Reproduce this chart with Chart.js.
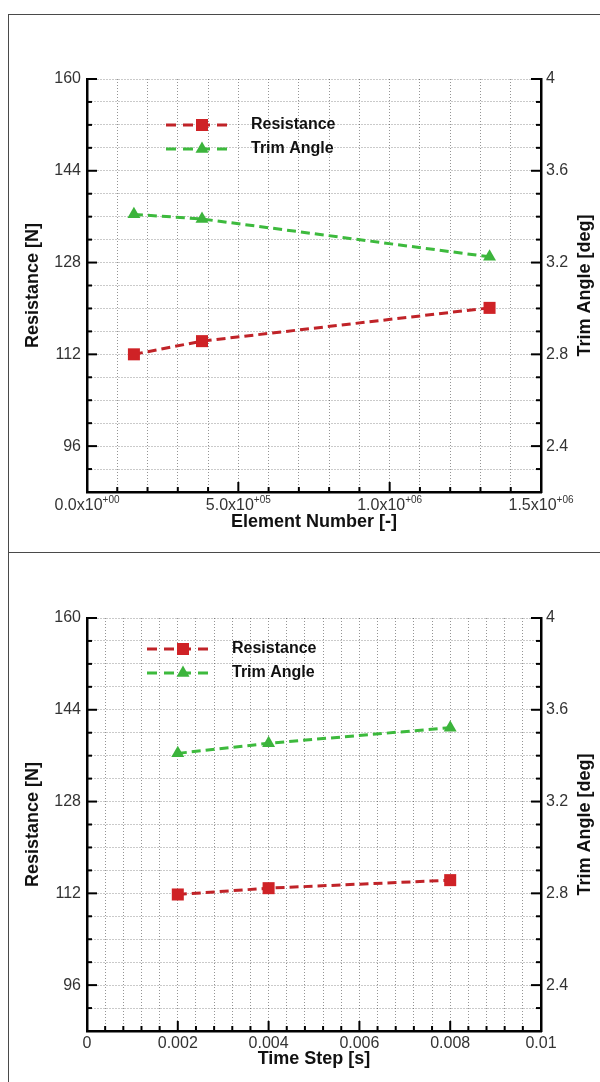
<!DOCTYPE html>
<html lang="fr">
<head>
<meta charset="utf-8">
<title>Résistance et assiette</title>
<script src="https://cdn.jsdelivr.net/npm/chart.js@4.4.0/dist/chart.umd.min.js"></script>
<style>
  html, body { margin: 0; padding: 0; background: #fff; }
  #page { position: relative; width: 600px; height: 1082px; overflow: hidden; }
  canvas { position: absolute; left: 0; }
  #chart-mesh { top: 0; }
  #chart-time { top: 552px; }
  .cadre { position: absolute; background: #4a4a4a; }
</style>
</head>
<body>
<div id="page">
  <canvas id="chart-mesh" width="600" height="552"></canvas>
  <canvas id="chart-time" width="600" height="530"></canvas>
  <div class="cadre" style="left:8px; top:14px; width:592px; height:1px;"></div>
  <div class="cadre" style="left:8px; top:552px; width:592px; height:1px;"></div>
  <div class="cadre" style="left:8px; top:14px; width:1px; height:1068px;"></div>
</div>

<script>
// ======== DONNÉES ========

// Convergence en maillage
const elementNumber = [155000, 380000, 1330000];
const resistanceMesh = [112.0, 114.3, 120.1];
const trimMesh = [3.41, 3.39, 3.225];

// Convergence en pas de temps
const timeStep = [0.002, 0.004, 0.008];
const resistanceTime = [111.8, 112.9, 114.3];
const trimTime = [3.41, 3.454, 3.522];

// Graduations principales (avec étiquette)
const resistanceTicks = [96, 112, 128, 144, 160];
const trimTicks = [2.4, 2.8, 3.2, 3.6, 4];
const meshTicks = [0, 500000, 1000000, 1500000];
const timeTicks = [0, 0.002, 0.004, 0.006, 0.008, 0.01];

const FONT = '"Liberation Sans", Arial, sans-serif';

const RED = '#cf2226';
const RED_LINE = '#c02328';
const GREEN = '#3cb43c';
const GREEN_LINE = '#3dba3d';

function isMajor(v, list) {
    return list.some(m => Math.abs(m - v) < 1e-9 * Math.max(1, Math.abs(m)));
}

// étiquette du type 5.0x10^+05
function sciLabel(v) {
    const [mant, exp] = v.toExponential(1).split('e');
    const sign = exp[0];
    const digits = exp.slice(1).padStart(2, '0');
    return { base: mant + 'x10', sup: sign + digits };
}

// ======== PLUGIN : graduations internes, titres, légende ========
const tecplotAxes = {
    id: 'tecplotAxes',
    afterDraw(chart, args, opts) {
        const { ctx, chartArea: a, scales } = chart;
        ctx.save();

        // petites graduations tournées vers l'intérieur
        ctx.strokeStyle = '#000';
        ctx.lineWidth = 2;
        const seg = (x1, y1, x2, y2) => {
            ctx.beginPath(); ctx.moveTo(x1, y1); ctx.lineTo(x2, y2); ctx.stroke();
        };
        scales.x.ticks.forEach(t => {
            const px = scales.x.getPixelForValue(t.value);
            seg(px, a.bottom, px, a.bottom - (isMajor(t.value, opts.xMajor) ? 10 : 5));
        });
        scales.y.ticks.forEach(t => {
            const py = scales.y.getPixelForValue(t.value);
            seg(a.left, py, a.left + (isMajor(t.value, resistanceTicks) ? 10 : 5), py);
        });
        scales.y2.ticks.forEach(t => {
            const py = scales.y2.getPixelForValue(t.value);
            seg(a.right, py, a.right - (isMajor(t.value, trimTicks) ? 10 : 5), py);
        });

        // étiquettes de l'axe x
        ctx.fillStyle = '#333';
        ctx.textBaseline = 'alphabetic';
        const yBase = a.bottom + opts.xLabelGap;
        opts.xMajor.forEach(v => {
            const px = scales.x.getPixelForValue(v);
            if (opts.scientific) {
                const lab = sciLabel(v);
                ctx.font = '16px ' + FONT;
                const wb = ctx.measureText(lab.base).width;
                ctx.font = '10px ' + FONT;
                const ws = ctx.measureText(lab.sup).width;
                const x0 = px - (wb + ws) / 2;
                ctx.textAlign = 'left';
                ctx.font = '16px ' + FONT;
                ctx.fillText(lab.base, x0, yBase);
                ctx.font = '10px ' + FONT;
                ctx.fillText(lab.sup, x0 + wb, yBase - 7);
            } else {
                ctx.font = '16px ' + FONT;
                ctx.textAlign = 'center';
                ctx.fillText(String(v), px, yBase);
            }
        });

        // titres des axes
        ctx.fillStyle = '#111';
        ctx.font = 'bold 18px ' + FONT;
        ctx.textAlign = 'center';
        ctx.textBaseline = 'middle';
        ctx.fillText(opts.xTitle, (a.left + a.right) / 2, a.bottom + opts.xTitleGap);
        const midY = (a.top + a.bottom) / 2;
        [[33, 'Resistance [N]'], [585, 'Trim Angle [deg]']].forEach(([tx, txt]) => {
            ctx.save();
            ctx.translate(tx, midY);
            ctx.rotate(-Math.PI / 2);
            ctx.fillText(txt, 0, 0);
            ctx.restore();
        });

        // légende dans la zone du graphique
        const lx = a.left + opts.legendX;
        chart.data.datasets.forEach((ds, i) => {
            const ly = a.top + opts.legendY + i * 24;
            ctx.strokeStyle = ds.borderColor;
            ctx.lineWidth = 3;
            ctx.setLineDash([10, 7]);
            seg(lx, ly, lx + 67, ly);
            ctx.setLineDash([]);
            ctx.fillStyle = ds.backgroundColor;
            Chart.helpers.drawPoint(ctx, {
                pointStyle: ds.pointStyle, radius: ds.pointRadius,
                rotation: 0, borderWidth: 0
            }, lx + 36, ly);
            ctx.fillStyle = '#111';
            ctx.font = 'bold 16px ' + FONT;
            ctx.textAlign = 'left';
            ctx.textBaseline = 'middle';
            ctx.fillText(ds.label, lx + 85, ly);
        });

        ctx.restore();
    }
};

function buildChart(canvasId, xs, res, trim, p) {
    const gridLines = {
        color: 'rgba(0,0,0,0.42)', lineWidth: 1, drawTicks: false, tickLength: 0
    };
    const axisBorder = { display: true, color: '#000', width: 2.5, dash: [1, 2] };

    return new Chart(document.getElementById(canvasId), {
        type: 'scatter',
        data: {
            datasets: [{
                label: 'Resistance',
                data: xs.map((x, i) => ({ x: x, y: res[i] })),
                yAxisID: 'y',
                showLine: true,
                borderColor: RED_LINE,
                backgroundColor: RED,
                borderWidth: 3,
                borderDash: [9, 5],
                pointStyle: 'rect',
                pointRadius: 8.5,
                pointBorderWidth: 0
            }, {
                label: 'Trim Angle',
                data: xs.map((x, i) => ({ x: x, y: trim[i] })),
                yAxisID: 'y2',
                showLine: true,
                borderColor: GREEN_LINE,
                backgroundColor: GREEN,
                borderWidth: 3,
                borderDash: [9, 5],
                pointStyle: 'triangle',
                pointRadius: 7.5,
                pointBorderWidth: 0
            }]
        },
        options: {
            responsive: false,
            animation: false,
            layout: { padding: { top: p.top, left: 0, right: 0, bottom: 0 } },
            scales: {
                x: {
                    type: 'linear',
                    min: p.xMin, max: p.xMax,
                    ticks: { display: false, stepSize: p.xStep, autoSkip: false },
                    grid: gridLines,
                    border: axisBorder,
                    afterFit: s => { s.height = p.xHeight; }
                },
                y: {
                    position: 'left',
                    min: 88, max: 160,
                    ticks: {
                        stepSize: 4, autoSkip: false, padding: 6,
                        color: '#333', font: { family: FONT, size: 16 },
                        callback: v => isMajor(v, resistanceTicks) ? String(v) : ''
                    },
                    grid: gridLines,
                    border: axisBorder,
                    afterFit: s => { s.width = 87; }
                },
                y2: {
                    position: 'right',
                    min: 2.2, max: 4,
                    ticks: {
                        stepSize: 0.1, autoSkip: false, padding: 5,
                        color: '#333', font: { family: FONT, size: 16 },
                        callback: v => isMajor(v, trimTicks) ? String(Math.round(v * 10) / 10) : ''
                    },
                    grid: { display: false, drawTicks: false, tickLength: 0 },
                    border: { display: true, color: '#000', width: 2.5 },
                    afterFit: s => { s.width = 59; }
                }
            },
            plugins: {
                legend: { display: false },
                tooltip: { enabled: false },
                tecplotAxes: {
                    xMajor: p.xMajor,
                    scientific: p.scientific,
                    xTitle: p.xTitle,
                    xLabelGap: p.xLabelGap,
                    xTitleGap: p.xTitleGap,
                    legendX: p.legendX,
                    legendY: p.legendY
                }
            }
        },
        plugins: [tecplotAxes]
    });
}

document.addEventListener('DOMContentLoaded', () => {
    // haut : nombre d'éléments
    buildChart('chart-mesh', elementNumber, resistanceMesh, trimMesh, {
        top: 79, xHeight: 60,
        xMin: 0, xMax: 1500000, xStep: 100000,
        xMajor: meshTicks, scientific: true,
        xTitle: 'Element Number [-]', xLabelGap: 18, xTitleGap: 30,
        legendX: 79, legendY: 46
    });

    // bas : pas de temps
    buildChart('chart-time', timeStep, resistanceTime, trimTime, {
        top: 66, xHeight: 51,
        xMin: 0, xMax: 0.01, xStep: 0.0004,
        xMajor: timeTicks, scientific: false,
        xTitle: 'Time Step [s]', xLabelGap: 17, xTitleGap: 28,
        legendX: 60, legendY: 31
    });
});
</script>
</body>
</html>
